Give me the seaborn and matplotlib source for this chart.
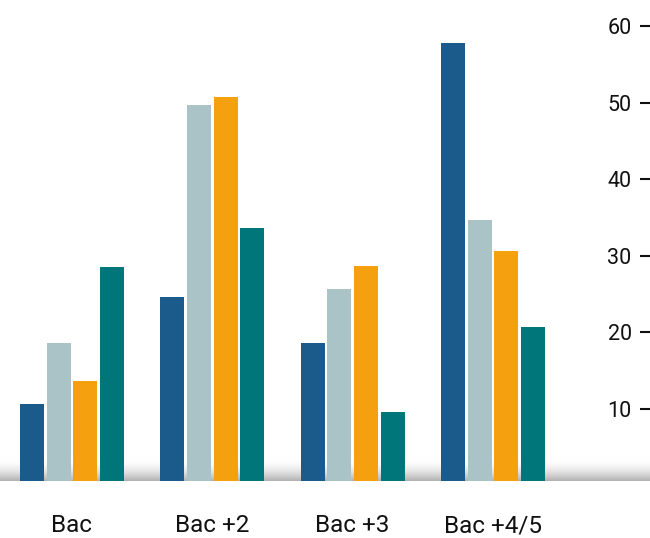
import numpy as np
import pandas as pd
import matplotlib
matplotlib.use("Agg")
import matplotlib.pyplot as plt
from matplotlib.colors import LinearSegmentedColormap
import seaborn as sns

# Education levels (x categories) and the four series per level
niveaux = ["Bac", "Bac +2", "Bac +3", "Bac +4/5"]
series = ["s1", "s2", "s3", "s4"]
serie_1 = [10.6, 24.6, 18.6, 57.8]
serie_2 = [18.6, 49.7, 25.7, 34.7]
serie_3 = [13.6, 50.7, 28.7, 30.6]
serie_4 = [28.6, 33.6, 9.6, 20.7]
y_ticks = [10, 20, 30, 40, 50, 60]

couleurs = ["#1b5b8c", "#a9c3c7", "#f5a00f", "#00767a"]

df = pd.DataFrame({
    "niveau": niveaux * 4,
    "serie": [s for s in series for _ in niveaux],
    "valeur": serie_1 + serie_2 + serie_3 + serie_4,
})

sns.set_theme(style="white")
plt.rcParams["font.family"] = ["Roboto", "DejaVu Sans"]

fig = plt.figure(figsize=(6.5, 5.38), dpi=100)
ax = fig.add_axes([0.0, 57 / 538, 1.0, 481 / 538])

sns.barplot(data=df, x="niveau", y="valeur", hue="serie", order=niveaux,
            hue_order=series, palette=couleurs, saturation=1, width=0.76,
            gap=0.1, legend=False, errorbar=None, ax=ax, zorder=3,
            linewidth=0)

x0, x1 = -0.513, 4.12
y0, y1 = 0.6, 0.6 + 481 / 7.66

# soft grey shading along the baseline, darkest at the bottom
band_h = 22 / 7.66
ramp = (np.linspace(0, 1, 200) ** 1.8).reshape(-1, 1)
cmap = LinearSegmentedColormap.from_list("band", ["#ffffff", "#b0b0b0"])
ax.imshow(ramp, aspect="auto", cmap=cmap, origin="upper", vmin=0, vmax=1,
          extent=[x0, x1, y0, y0 + band_h], zorder=1, interpolation="bilinear")
ax.set_xlim(x0, x1)
ax.set_ylim(y0, y1)

for side in ["top", "right", "bottom"]:
    ax.spines[side].set_visible(False)
ax.spines["left"].set_position(("axes", 1.0))
ax.spines["left"].set_visible(False)

ax.set_yticks(y_ticks)
ax.set_yticklabels([str(v) for v in y_ticks])
ax.tick_params(axis="y", direction="out", length=7.2, width=1.5, color="#111111",
               pad=6, labelsize=15.5, labelcolor="#111111", left=True)
ax.tick_params(axis="x", length=0, pad=24, labelsize=17.5, labelcolor="#111111")
ax.set_xlabel("")
ax.set_ylabel("")
ax.grid(False)

fig.savefig("out.png", dpi=100)
